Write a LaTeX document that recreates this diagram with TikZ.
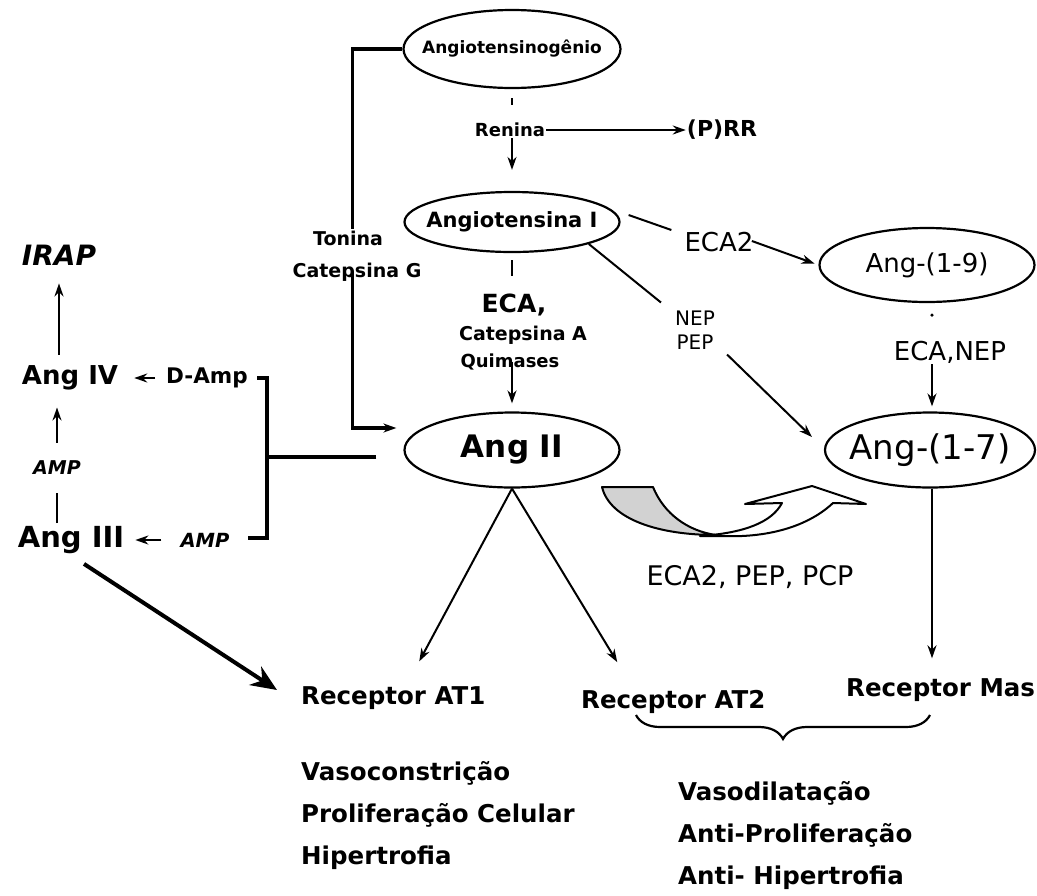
\documentclass[tikz,border=0pt]{standalone}
\usepackage{fontspec}
\setmainfont{DejaVu Sans}
\usetikzlibrary{shapes.geometric,arrows.meta,decorations.pathreplacing}

\newcommand{\fs}[1]{\fontsize{#1}{#1}\selectfont}
\newcommand{\zw}[1]{\makebox[0pt]{#1}}

\begin{document}
\begin{tikzpicture}[x=1pt,y=-1pt,
        ang/.style={ellipse,draw,line width=2.2pt,inner sep=0pt},
        lbl/.style={inner sep=1pt,font=\bfseries\fs{18}},
        rec/.style={inner sep=1pt,anchor=west,font=\bfseries\fs{24.5}},
        arr/.style={-{Stealth[length=13pt,width=9pt]},line width=2pt},
        tick/.style={line width=2pt},
        brk/.style={line width=3.2pt}]
    \useasboundingbox (0,0) rectangle (1037,895);
    % Ellipses
    \node[ang,minimum width=217pt,minimum height=78pt,font=\bfseries\fs{17}] (agt) at (512,49) {\zw{Angiotensinogênio}};
    \node[ang,minimum width=215pt,minimum height=60pt,font=\bfseries\fs{21}] (angI) at (512,222) {\zw{Angiotensina I}};
    \node[ang,minimum width=215pt,minimum height=75pt,font=\bfseries\fs{31}] (angII) at (512,450) {\zw{Ang II}};
    \node[ang,minimum width=215pt,minimum height=74pt,font=\fs{26}] (ang19) at (927,265) {\zw{Ang-(1-9)}};
    \node[ang,minimum width=210pt,minimum height=75pt,font=\fs{34}] (ang17) at (930,450) {\zw{Ang-(1-7)}};
    % Enzymes
    \node[lbl] (renina) at (510,130) {Renina};
    \node[lbl,font=\bfseries\fs{22}] (prr) at (722,130) {(P)RR};
    \node[lbl,font=\bfseries\fs{19}] (tonina) at (348,238) {Tonina};
    \node[lbl,font=\bfseries\fs{19}] (catg) at (357,272) {Catepsina G};
    \node[lbl,font=\bfseries\fs{25}] (eca) at (514,305) {ECA,};
    \node[lbl,font=\bfseries\fs{19}] (catA) at (523,335) {Catepsina A};
    \node[lbl] (quim) at (510,362) {Quimases};
    \node[inner sep=1pt,font=\fs{26}] (eca2) at (719,242) {ECA2};
    \node[inner sep=0pt,align=center,font=\fontsize{20}{24}\selectfont] (nep) at (695,330) {NEP\\PEP};
    \node[inner sep=1pt,font=\fs{26}] (ecanep) at (950,352) {ECA,NEP};
    \node[inner sep=1pt,font=\fs{27}] (pcp) at (750,577) {ECA2, PEP, PCP};
    % Left branch
    \node[lbl,font=\bfseries\itshape\fs{28}] (irap) at (59,255) {IRAP};
    \node[lbl,font=\bfseries\fs{26}] (ang4) at (70,378) {Ang IV};
    \node[lbl,font=\bfseries\fs{21.5}] (damp) at (207,378) {D-Amp};
    \node[lbl,font=\bfseries\itshape\fs{19}] (amp1) at (57,468) {AMP};
    \node[lbl,font=\bfseries\fs{29}] (ang3) at (71,540) {Ang III};
    \node[lbl,font=\bfseries\itshape\fs{19.5}] (amp2) at (205,540) {AMP};
    % Receptors and effects
    \node[rec] (rat1) at (300,698) {Receptor AT1};
    \node[rec] (rat2) at (580,702) {Receptor AT2};
    \node[rec] (rmas) at (845,690) {Receptor Mas};
    \foreach \y/\txt in {773/Vasoconstrição, 815/Proliferação Celular, 858/Hipertrofia} {
        \node[rec] (fa\y) at (300,\y) {\txt};
    }
    \foreach \y/\txt in {793/Vasodilatação, 835/Anti-Proliferação, 878/Anti- Hipertrofia} {
        \node[rec] (fb\y) at (677,\y) {\txt};
    }

    % Main axis
    \draw[tick,shorten <=9pt,shorten >=17pt] (agt.south) -- (agt.south |- renina.north);
    \draw[arr,shorten >=21pt] (angI.north |- renina.south) -- (angI.north);
    \draw[arr] (renina.east) -- (prr.west);
    \draw[tick,shorten <=7pt,shorten >=17pt] (angI.south) -- (angI.south |- eca.north);
    \draw[arr,shorten >=8pt] (angII.north |- quim.center) -- (angII.north);
    % Tonina / Catepsina G
    \draw[brk] (agt.west) -- ++(-50,0) coordinate (tc) -- (tc |- tonina.north);
    \draw[brk,-{Stealth[length=13pt,width=9pt]}] (tc |- catg.center) |- ([shift={(-7,-22)}]angII.west);
    % ECA2 and NEP/PEP
    \draw[tick] ([shift={(8,-7)}]angI.east) -- ([shift={(-12,-12)}]eca2.west);
    \draw[arr,shorten <=-3pt,shorten >=4pt] (eca2.east) -- (ang19.west);
    \draw[tick] (angI.south east) -- ([shift={(-14,-8)}]nep.north west);
    \draw[arr] ([shift={(12,5)}]nep.south east) -- ([shift={(-12,-13)}]ang17.west);
    \fill ([shift={(5,12)}]ang19.south) circle (1.8);
    \draw[arr,shorten >=5pt] (ecanep.south -| ang17.north) ++(2,0) -- ([shift={(2,0)}]ang17.north);
    % Receptors
    \draw[arr] (angII.south) -- ([shift={(26,-24)}]rat1.north);
    \draw[arr] (angII.south) -- ([shift={(-56,-27)}]rat2.north);
    \draw[arr,shorten >=19pt] ([shift={(2,0)}]ang17.south) -- ([shift={(2,0)}]ang17.south |- rmas.north);
    \draw[line width=2.2pt,decorate,decoration={brace,amplitude=24pt}] (930,715) -- (636,715);
    % Curved arrow
    \filldraw[fill=gray!35,line width=2pt,line join=round]
        (602,487) -- (653,487) .. controls (664,514) and (688,531) .. (716,535)
        .. controls (660,535) and (610,520) .. cycle;
    \draw[fill=white,line width=2pt,line join=round]
        (700,536) -- (742,536) .. controls (785,534) and (815,520) .. (833,503) -- (866,504) -- (812,486)
        -- (745,504) -- (782,503) .. controls (772,522) and (745,533) .. (700,536) -- cycle;
    % Left branch
    \draw[arr,shorten <=10pt,shorten >=17pt] (ang4.north -| irap.south) -- (irap.south);
    \draw[arr,shorten <=17pt,shorten >=16pt] (amp1.north) -- (amp1.north |- ang4.south);
    \draw[tick,shorten <=2pt,shorten >=17pt] (ang3.north -| amp1.south) -- (amp1.south);
    \draw[arr,shorten <=10pt,shorten >=15pt] (damp.west) -- (ang4.east);
    \draw[arr,shorten <=18pt,shorten >=10pt] (amp2.west) -- (ang3.east);
    \coordinate (bk) at (267,457);
    \draw[brk] ([shift={(8,0)}]damp.east) -| (bk) |- ([shift={(17,-2)}]amp2.east);
    \draw[line width=4pt,shorten <=27pt] (angII.west |- bk) -- (bk);
    \draw[line width=4pt,-{Stealth[length=26pt,width=22pt]}] ([shift={(13,9)}]ang3.south) -- ([shift={(-23,-8)}]rat1.west);
\end{tikzpicture}
\end{document}
